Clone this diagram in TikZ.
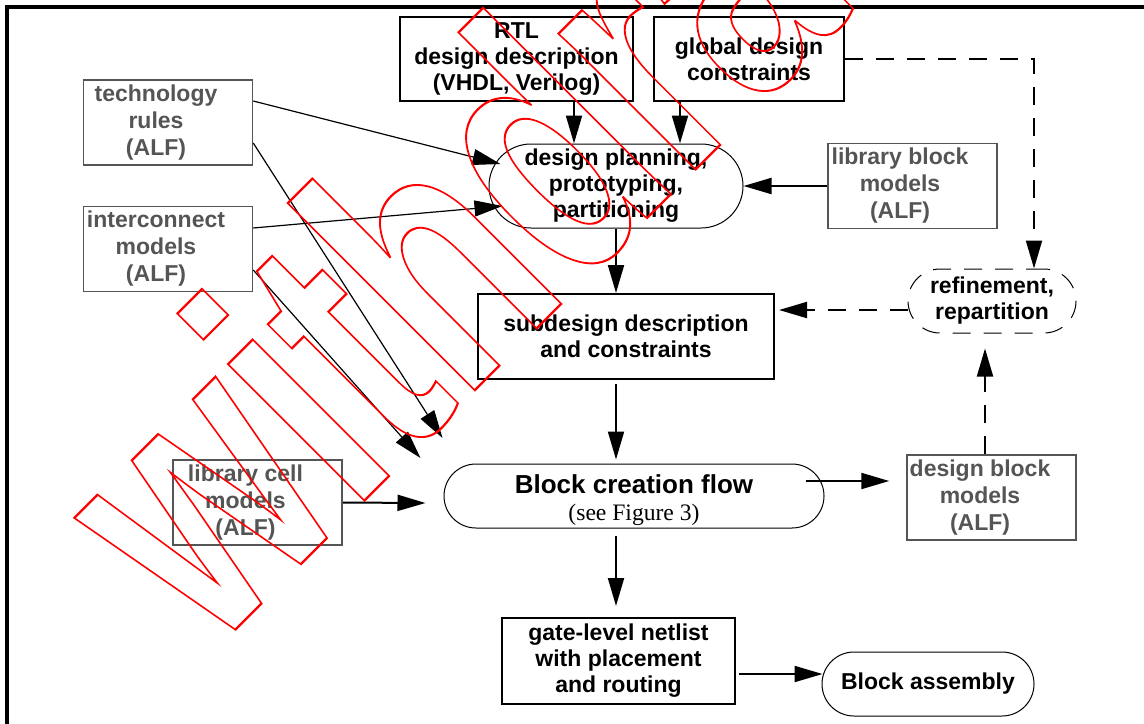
\documentclass[tikz,border=0pt]{standalone}
\usepackage{fontspec}
\setmainfont{Liberation Sans}
\newfontfamily\seriffont{Liberation Serif}
\usetikzlibrary{arrows.meta}
\definecolor{modelgray}{HTML}{555555}
\definecolor{stampred}{HTML}{FF0000}

\begin{document}
\begin{tikzpicture}[x=0.5pt,y=-0.5pt,
	blockbox/.style={draw,line width=1pt,inner sep=0pt,align=center,font=\bfseries\fontsize{11.5}{13}\selectfont},
	pill/.style={blockbox,line width=0.5pt,rounded corners=#1},
	modelbox/.style={draw=modelgray,line width=0.75pt,inner sep=0pt,minimum width=84.5pt,minimum height=42.5pt},
	modeltext/.style={text=modelgray,align=center,inner sep=0pt,font=\bfseries\fontsize{11.5}{13.5}\selectfont},
	flow/.style={-{Triangle[length=14pt,width=8pt]},line width=1pt},
	thinflow/.style={flow,line width=0.6pt},
	dashflow/.style={flow,dash pattern=on 9pt off 6.5pt}]
	\useasboundingbox (0,0) rectangle (1144,723);
	\draw[line width=1.7pt] (7,740) -- (7,7) -- (1160,7);

	\node[blockbox,minimum width=116.5pt,minimum height=42pt](rtl) at (516.5,59) {RTL\\design description\\(VHDL, Verilog)};
	\node[blockbox,minimum width=95pt,minimum height=42pt](constr) at (749,59) {global design\\constraints};
	\node[pill=21pt,minimum width=127pt,minimum height=42pt](planning) at (616,186) {design planning,\\prototyping,\\partitioning};
	\node[blockbox,minimum width=148pt,minimum height=42.5pt](subdesign) at (626,336.5) {subdesign description\\and constraints};
	\node[pill=16pt,minimum width=190pt,minimum height=32pt,font=\bfseries\fontsize{13}{13.5}\selectfont](blockflow) at (634,496) {\rule{0pt}{14pt}Block creation flow\\{\seriffont\mdseries\fontsize{11.8}{13.5}\selectfont (see Figure 3)}};
	\node[blockbox,minimum width=116.5pt,minimum height=43pt](gate) at (618.5,661) {gate-level netlist\\with placement\\and routing};
	\node[pill=16pt,minimum width=106pt,minimum height=32pt](assembly) at (928,684) {Block assembly};
	\node[pill=16pt,dash pattern=on 9pt off 6.5pt,minimum width=84pt,minimum height=32pt](refine) at (992,301) {refinement,\\repartition};

	\node[modelbox](techrules) at (168,122.5) {};
	\node[modeltext](techrulestxt) at (156,122.5) {technology\\rules\\(ALF)};
	\node[modelbox](interconnect) at (168,249) {};
	\node[modeltext](interconnecttxt) at (156,249) {interconnect\\models\\(ALF)};
	\node[modelbox](libblock) at (912.5,186) {};
	\node[modeltext](libblocktxt) at (900,186) {library block\\models\\(ALF)};
	\node[modelbox](libcell) at (257.5,502.5) {};
	\node[modeltext](libcelltxt) at (245.5,502.5) {library cell\\models\\(ALF)};
	\node[modelbox](designblock) at (991.5,497.5) {};
	\node[modeltext](designblocktxt) at (980,497.5) {design block\\models\\(ALF)};

	\draw[flow] ([xshift=28.75pt]rtl.south) -- ([xshift=-21pt]planning.north);
	\draw[flow] ([xshift=-34.5pt]constr.south) -- ([xshift=32pt]planning.north);
	\draw[thinflow] ([yshift=10.75pt]techrules.east) -- ([xshift=6pt,yshift=11pt]planning.west);
	\draw[thinflow] ([yshift=10.5pt]interconnect.east) -- ([xshift=7pt,yshift=-10pt]planning.west);
	\draw[thinflow] ([yshift=-10.25pt]techrules.east) -- ([xshift=-0.5pt,yshift=29pt]blockflow.west);
	\draw[thinflow] ([yshift=-10.5pt]interconnect.east) -- ([xshift=-11.5pt,yshift=19pt]blockflow.west);
	\draw[flow] (libblock.west) -- (planning.east);
	\draw[flow] (planning.south) -- ([xshift=-5pt]subdesign.north);
	\draw[flow] ([xshift=-5pt,yshift=-2pt]subdesign.south) -- ([xshift=-9pt,yshift=2pt]blockflow.north);
	\draw[flow] ([xshift=-9pt,yshift=-3.5pt]blockflow.south) -- ([xshift=-1.25pt,yshift=5.5pt]gate.north);
	\draw[flow] ([xshift=1.5pt,yshift=-6.5pt]gate.east) -- ([xshift=0.5pt,yshift=5pt]assembly.west);
	\draw[flow] (libcell.east) -- ([xshift=-9pt,yshift=-3.5pt]blockflow.west);
	\draw[flow] ([xshift=-9.5pt,yshift=7.5pt]blockflow.east) -- ([xshift=-8.5pt,yshift=8.25pt]designblock.west);
	\draw[dashflow] (constr.east) -| ([xshift=21pt]refine.north);
	\draw[dashflow] ([yshift=-4.5pt]refine.west) -- ([xshift=2pt,yshift=13.25pt]subdesign.east);
	\draw[dashflow] ([xshift=-3.25pt]designblock.north) -- ([xshift=-3.5pt,yshift=-7.5pt]refine.south);

	% watermark
	\node[anchor=base west,inner sep=0pt,rotate=45,xscale=0.70,text=stampred,font=\bfseries\fontsize{182.5}{190}\selectfont](stamp) at (211,654) {\special{pdf:code 1 Tr 1.1 w}withdrawn\special{pdf:code 0 Tr}};
\end{tikzpicture}
\end{document}
